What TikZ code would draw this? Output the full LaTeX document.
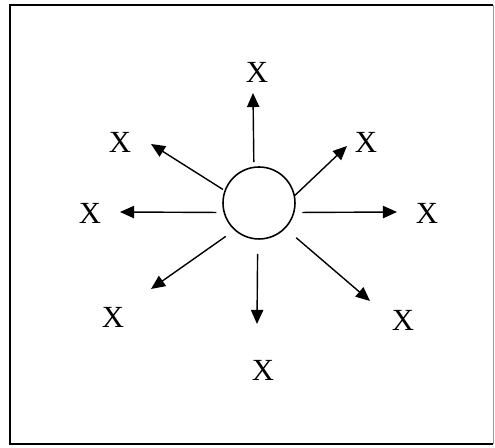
\documentclass[tikz,border=0pt]{standalone}
\usepackage{fontspec}
\setmainfont{Liberation Serif}
\usepackage{tikz}
\usetikzlibrary{arrows.meta}

\begin{document}
\begin{tikzpicture}[
x=0.02cm, y=0.02cm,
hub/.style={draw, circle, line width=0.9pt, minimum size=1.44cm, inner sep=0pt},
xlabel/.style={inner sep=0pt, font=\fontsize{17.5}{20}\selectfont},
arrow/.style={-{Triangle[length=8pt, width=7pt]}, line width=0.8pt}
]
\useasboundingbox (0,0) rectangle (495,448);
\draw[line width=1.1pt] (493,443) -- (10,443) -- (10,4) -- (493,4);
\draw[line width=0.4pt, black!40] (493,443) -- (493,4);

\node[hub] (c) at (259,245) {};

% tips
\coordinate (t1) at (253,355);
\coordinate (t2) at (151,304);
\coordinate (t3) at (347,302);
\coordinate (t4) at (120,236);
\coordinate (t5) at (397,236);
\coordinate (t6) at (151,159);
\coordinate (t7) at (257,124);
\coordinate (t8) at (370,147);

\node[xlabel] (x1) at (257,376) {X};
\node[xlabel] (x2) at (120,306) {X};
\node[xlabel] (x3) at (366,306) {X};
\node[xlabel] (x4) at (90,235) {X};
\node[xlabel] (x5) at (427,235) {X};
\node[xlabel] (x6) at (113,131) {X};
\node[xlabel] (x7) at (263,78) {X};
\node[xlabel] (x8) at (403,128) {X};

\draw[arrow, shorten <=2.5pt] (c.98) -- (t1);
\draw[arrow, shorten <=1pt] (c.160) -- (t2);
\draw[arrow] (c.12) -- (t3);
\draw[arrow, shorten <=4pt] (c.195) -- (t4);
\draw[arrow, shorten <=4.5pt] (c.345) -- (t5);
\draw[arrow, shorten <=6pt] (c.228) -- (t6);
\draw[arrow, shorten <=8pt] (c.268) -- (t7);
\draw[arrow, shorten <=8pt] (c.316) -- (t8);
\end{tikzpicture}
\end{document}
